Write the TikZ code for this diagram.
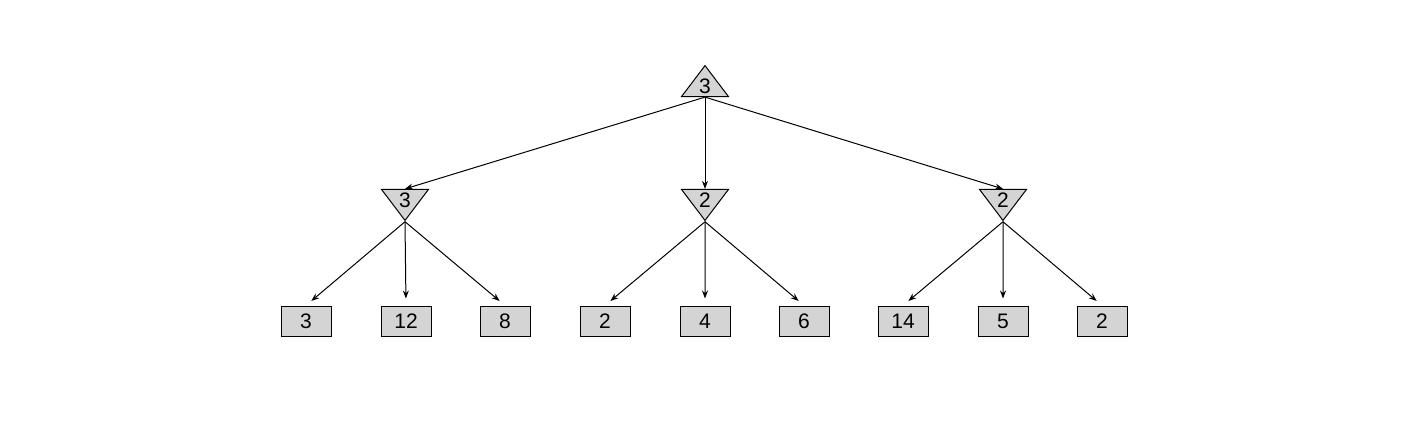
\documentclass[tikz,border=0pt]{standalone}
\usepackage{fontspec}
\setmainfont{Liberation Sans}
\usetikzlibrary{shapes.geometric,arrows.meta}

\begin{document}
\begin{tikzpicture}[x=0.5pt,y=-0.5pt,line width=0.5pt,>={Stealth[length=4pt,width=3pt]},
  font=\fontsize{10.5}{12}\selectfont]
\useasboundingbox (0,0) rectangle (1408,424);
% max and min nodes
 \begin{scope}[every node/.style={draw, fill=black!17, isosceles triangle,
   isosceles triangle stretches, minimum width=23.5pt, minimum height=15.5pt,
   inner sep=0pt}]
  \node[shape border rotate=90] (max) at (705,86) {3};
  \node[shape border rotate=270] (minA) at (405,200) {3};
  \node[shape border rotate=270] (minB) at (705,200) {2};
  \node[shape border rotate=270] (minC) at (1003,200) {2};
 \end{scope}
% leaves
 \begin{scope}[every node/.style={draw, fill=black!17, minimum width=25pt,
   minimum height=15pt, inner sep=0pt}]
  \node (a1) at (306,321) {3};
  \node (a2) at (406,321) {12};
  \node (a3) at (505,321) {8};
  \node (b1) at (605,321) {2};
  \node (b2) at (705,321) {4};
  \node (b3) at (804,321) {6};
  \node (c1) at (903,321) {14};
  \node (c2) at (1003,321) {5};
  \node (c3) at (1102,321) {2};
 \end{scope}
  \path [->] (max.south) edge (minA.north);
  \path [->] (max.south) edge (minB.north);
  \path [->] (max.south) edge (minC.north);
  \path [->, shorten >=3.5pt] (minA.south) edge (a1.north);
  \path [->, shorten >=3.5pt] (minA.south) edge (a2.north);
  \path [->, shorten >=3.5pt] (minA.south) edge (a3.north);
  \path [->, shorten >=3.5pt] (minB.south) edge (b1.north);
  \path [->, shorten >=3.5pt] (minB.south) edge (b2.north);
  \path [->, shorten >=3.5pt] (minB.south) edge (b3.north);
  \path [->, shorten >=3.5pt] (minC.south) edge (c1.north);
  \path [->, shorten >=3.5pt] (minC.south) edge (c2.north);
  \path [->, shorten >=3.5pt] (minC.south) edge (c3.north);
\end{tikzpicture}
\end{document}
